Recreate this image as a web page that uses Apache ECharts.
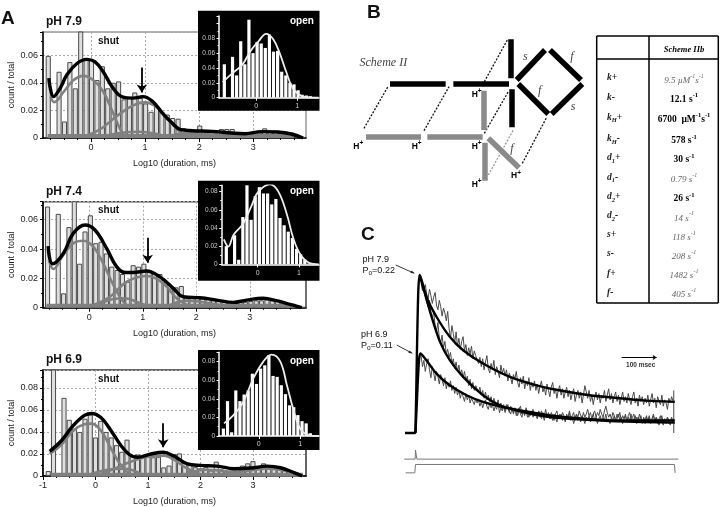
<!DOCTYPE html>
<html><head><meta charset="utf-8"><style>html,body{margin:0;background:#fff}#c{width:720px;height:507px}</style>
<script src="https://cdn.jsdelivr.net/npm/echarts@6/dist/echarts.min.js"></script></head><body><div id="c"></div>
<script>
// ---- Panel A: shut-time histograms (bin counts)
const shutStart79=-0.79, shutStart74=-0.78, shutStart69=-0.9, binWidth=0.1;
const shut79=[.0595,.002,.048,.012,.055,.036,.08,.058,.057,.042,.052,.036,.04,.041,.028,.029,.033,.029,.025,.019,.023,.019,.017,.0145,.014,.0072,.0048,.004,.009,.004,.0045,.0035,.0065,.0065,.0065,.003,.0035,.003,.0035,.004,.007,.005,.005,.004,.0045,.004,.002,.0008];
const shut74=[.069,.002,.064,.0098,.055,.08,.03,.052,.063,.044,.045,.037,.028,.0257,.023,.0177,.029,.028,.03,.0245,.0234,.023,.0177,.013,.0139,.0148,.008,.0075,.007,.007,.006,.005,.005,.004,.004,.0035,.004,.004,.0045,.005,.005,.0055,.005,.005,.004,.003,.002,.001,.0005];
const shut69=[.0045,.1,.001,.071,.051,.043,.04,.052,.056,.035,.05,.04,.035,.028,.022,.033,.0177,.0195,.017,.018,.017,.0175,.0078,.0095,.02,.0205,.0125,.011,.008,.007,.008,.005,.013,.006,.004,.005,.0065,.0095,.0115,.0135,.0075,.0115,.009,.008,.008,.006,.005,.003,.001];
const fit79=[[-.78,.0434],[-.69,.03],[-.57,.036],[-.445,.0458],[-.26,.054],[-.08,.057],[.07,.0554],[.225,.048],[.41,.036],[.59,.0296],[.775,.0289],[.96,.03],[1.14,.0265],[1.32,.018],[1.5,.0108],[1.66,.006],[1.87,.0053],[2.24,.0048],[2.6,.0036],[2.85,.0031],[3.15,.0046],[3.46,.0043],[3.7,.0029],[3.92,0]];
const comp79=[
 [[-.75,.03],[-.68,.026],[-.5,.0337],[-.32,.042],[-.14,.045],[.04,.042],[.225,.0337],[.41,.018],[.56,.0048],[.65,0]],
 [[-.14,.001],[.16,.006],[.47,.0157],[.77,.0234],[1,.0258],[1.2,.0229],[1.38,.0157],[1.63,.0048],[1.81,.0007]],
 [[.16,.0008],[.6,.004],[.9,.0045],[1.2,.003],[1.4,.0008]],
 [[1.4,.0008],[1.75,.0035],[2.24,.0025],[2.6,.0008]]];
const fit74=[[-.77,.042],[-.685,.03],[-.486,.037],[-.3,.0507],[-.08,.0564],[.106,.053],[.324,.0405],[.51,.028],[.667,.024],[.82,.024],[1.07,.025],[1.32,.021],[1.57,.0132],[1.757,.0075],[2.07,.0068],[2.38,.0052],[2.69,.0036],[2.94,.0052],[3.25,.0064],[3.5,.0048],[3.75,.0023],[3.97,0]];
const comp74=[
 [[-.754,.0325],[-.67,.0264],[-.486,.036],[-.3,.0439],[-.11,.0457],[.075,.0416],[.26,.0302],[.45,.0155],[.635,.0041],[.76,.0002]],
 [[.075,.0018],[.386,.0075],[.7,.0177],[1.07,.0216],[1.38,.0166],[1.63,.0064],[1.88,.0011]],
 [[.137,.001],[.45,.0059],[.667,.0064],[.95,.003],[1.13,.0007]],
 [[1.45,.0007],[1.82,.0048],[2.19,.0034],[2.57,.001]]];
const fit69=[[-.873,.0224],[-.65,.032],[-.43,.0454],[-.21,.055],[-.07,.0567],[.108,.0528],[.3,.0409],[.487,.0275],[.646,.0194],[.8,.017],[1.057,.02],[1.29,.0215],[1.5,.0179],[1.753,.011],[2,.0096],[2.32,.009],[2.64,.0066],[2.96,.0072],[3.27,.009],[3.525,.0075],[3.78,.003],[3.94,0]];
const comp69=[
 [[-.873,.02],[-.65,.0284],[-.43,.0409],[-.21,.0469],[-.08,.0475],[.108,.0409],[.3,.0245],[.487,.0096],[.646,.002],[.74,0]],
 [[.108,.002],[.36,.0066],[.646,.0125],[.994,.0176],[1.31,.0185],[1.5,.0146],[1.75,.0066],[2,.0015]],
 [[-.08,.002],[.23,.0057],[.55,.0066],[.87,.002]],
 [[1.75,.003],[2.13,.0057],[2.64,.0036],[3.27,.0066],[3.65,.0045],[3.94,.0006]]];
const floor79=[[-.8,.0014],[3.75,.0014]], floor74=[[-.8,.0014],[3.85,.0014]], floor69=[[-.85,.0012],[3.95,.0012]];
const arrow79=[.94,.051,.033], arrow74=[1.09,.0477,.0307], arrow69=[1.29,.0478,.026];
// ---- Panel A: open-time insets
const openStart79=-.78, openStart74=-.76, openStart69=-.855;
const open79=[.045,0,.055,.03,.076,.045,.105,.06,.075,.073,.067,.085,.062,.063,.035,.03,.02,.018,.01,.004,.003,.002,.001];
const open74=[.02,0,.032,.005,.052,.09,.049,.075,.085,.078,.078,.066,.072,.051,.043,.036,.029,.017,.011,.005,.001,.001];
const open69=[.008,.0375,.004,.049,.0375,.0446,.049,.067,.056,.0725,.076,.087,.0646,.0636,.0546,.045,.033,.031,.0225,.016,.0136,.003,.001];
const openFit79=[[-.82,.021],[-.58,.033],[-.34,.0445],[-.14,.063],[.055,.076],[.24,.086],[.41,.079],[.57,.06],[.73,.035],[.89,.0127],[1.09,.0027],[1.29,.0005],[1.52,0]];
const openFit74=[[-.82,.0275],[-.71,.0195],[-.59,.032],[-.35,.045],[-.145,.065],[.016,.08],[.3,.088],[.5,.08],[.7,.056],[.86,.029],[1.03,.011],[1.23,.002],[1.48,0]];
const openFit69=[[-.84,.0136],[-.61,.0225],[-.37,.037],[-.13,.062],[.11,.08],[.31,.0875],[.52,.08],[.68,.0546],[.84,.028],[1,.008],[1.2,.001],[1.45,0]];
const xTicksShut=[0,1,2,3], xTicksShut69=[-1,0,1,2,3], xTicksOpen=[0,1];
const xMinor=[-.75,-.5,-.25,0,.25,.5,.75,1,1.25,1.5,1.75,2,2.25,2.5,2.75,3,3.25,3.5,3.75];
// ---- Panel C: traces (time in ms, relative amplitude)
const traceStart=16, traceStep=4;
const traceHigh=[.96,.93,.90,.94,.88,.85,.91,.87,.82,.86,.89,.81,.78,.84,.80,.74,.79,.76,.71,.77,
.66,.60,.68,.63,.57,.64,.55,.60,.53,.58,.61,.52,.56,.49,.54,.50,.55,.47,.52,.49,
.50,.44,.48,.42,.47,.40,.45,.49,.41,.38,.44,.40,.46,.37,.42,.39,.35,.43,.38,.41,
.36,.40,.33,.38,.35,.31,.37,.34,.39,.32,.29,.35,.31,.36,.28,.33,.30,.35,.27,.32,
.29,.33,.27,.31,.25,.30,.33,.26,.29,.24,.31,.27,.23,.29,.32,.25,.28,.22,.27,.30,
.24,.28,.22,.26,.29,.23,.27,.21,.25,.28,.20,.24,.27,.22,.26,.19,.24,.30,.26,.22,
.27,.20,.24,.18,.23,.26,.21,.25,.19,.24,.22,.27,.20,.24,.28,.21,.25,.19,.23,.26,
.20,.24,.18,.22,.26,.20,.23,.19,.25,.21,.18,.23,.26,.19,.22,.17,.24,.20,.23,.18,
.22,.19,.24,.17,.21,.25,.19,.22,.16,.23,.20,.18,.24,.17,.21,.19,.15,.22,.19,.23,.20];
const traceMid=[.95,.90,.93,.86,.83,.80,.84,.75,.72,.77,.68,.64,.70,.60,.57,.62,.54,.58,.50,.53,
.48,.51,.44,.47,.41,.45,.39,.43,.37,.40,.35,.39,.33,.36,.30,.34,.28,.32,.27,.30,
.31,.26,.29,.24,.27,.22,.26,.21,.24,.20,.23,.18,.22,.19,.17,.21,.16,.19,.15,.18,
.14,.18,.16,.13,.17,.15,.12,.16,.14,.11,.15,.17,.12,.14,.11,.16,.13,.10,.14,.12,
.15,.11,.13,.10,.14,.12,.09,.13,.11,.15,.10,.12,.09,.13,.11,.08,.12,.14,.10,.12,
.09,.13,.11,.08,.12,.10,.14,.09,.11,.13,.08,.12,.10,.14,.11,.09,.13,.10,.12,.15,
.11,.13,.09,.12,.14,.10,.13,.11,.15,.12,.10,.14,.17,.13,.10,.12,.09,.13,.11,.08,
.12,.10,.13,.08,.11,.09,.12,.07,.11,.13,.08,.10,.12,.07,.10,.08,.12,.09,.06,.10,
.08,.11,.07,.10,.06,.09,.11,.07,.10,.08,.05,.09,.11,.07,.09,.06,.10,.08,.05,.09,.07];
const traceLow=[.49,.42,.46,.39,.44,.47,.40,.35,.42,.38,.33,.39,.36,.31,.37,.34,.30,.35,.28,.32,
.29,.33,.27,.30,.25,.29,.24,.27,.22,.26,.23,.20,.25,.21,.24,.19,.22,.20,.18,.22,
.19,.21,.17,.20,.16,.19,.21,.17,.15,.19,.16,.18,.14,.17,.15,.19,.13,.16,.14,.17,
.13,.16,.18,.14,.12,.16,.13,.15,.11,.14,.16,.12,.10,.14,.12,.15,.10,.13,.11,.14,
.10,.13,.11,.09,.13,.10,.14,.11,.08,.12,.10,.13,.09,.11,.08,.12,.10,.07,.11,.09,
.12,.08,.10,.07,.11,.09,.13,.08,.10,.06,.09,.12,.08,.10,.07,.11,.09,.06,.10,.08,
.11,.07,.09,.12,.08,.10,.06,.09,.11,.07,.10,.08,.12,.07,.09,.06,.10,.08,.11,.07,
.09,.12,.08,.10,.06,.09,.11,.07,.10,.08,.12,.07,.09,.11,.06,.10,.08,.11,.07,.09,
.06,.10,.08,.11,.07,.09,.12,.07,.10,.06,.09,.11,.08,.05,.09,.07,.10,.06,.08,.10,.07];
const fitHigh=[[-30,0],[-2,0],[0,.02],[4,.5],[8,.9],[12,1],[31,.863],[60,.736],[98,.609],[136,.524],[193,.44],[270,.355],[346,.302],[422,.266],[498,.239],[575,.222],[651,.207],[741,.197]];
const fitMid=[[12,1],[27,.884],[46,.736],[70,.577],[98,.461],[136,.355],[193,.239],[241,.175],[308,.133],[384,.101],[479,.085],[575,.074],[741,.066]];
const fitLow=[[0,0],[6,.3],[10,.46],[14,.503],[31,.461],[60,.376],[98,.302],[146,.239],[193,.197],[241,.169],[308,.14],[384,.112],[479,.091],[575,.08],[741,.08]];
const endSpike=[[738,.27],[738,0]];
const stimPulse=[[-32,-.165],[-1,-.165],[0,-.108],[3,-.108],[4,-.165],[751,-.165]];
const stimStep=[[-28,-.252],[-2,-.252],[0,-.199],[740,-.199],[742,-.252]];
const scaleBar=[589,689,.478];
// ---- Panel B: scheme segments, in scheme units
const schemeBlack=[[120,251,287,251],[310,251,477,251],[483,118,483,235],[485,268,485,382],[500,240,585,150],[600,150,693,240],[505,252,595,342],[605,342,697,252]];
const schemeGray=[[48,409,213,409],[232,411,398,411],[401,272,401,390],[403,428,403,542],[415,415,507,503]];
const schemeDots=[[42,385,115,258],[222,392,297,260],[403,245,472,120],[403,400,475,275],[517,490,590,352]];
const schemeDotsGray=[[415,525,490,390]];
// ---- Table
const rowLabels=['{i|k}{i|+}','{i|k}{i|-}','{i|k}{sub|H}{i|+}','{i|k}{sub|H}{i|-}','{i|d}{sub|1}{i|+}','{i|d}{sub|1}{i|-}','{i|d}{sub|2}{i|+}','{i|d}{sub|2}{i|-}','{i|s+}','{i|s-}','{i|f+}','{i|f-}'];
const rowValues=['{g|9.5 µM}{gs|-1}{g|s}{gs|-1}','{b|12.1 s}{bs|-1}','{b|6700  µM}{bs|-1}{b|s}{bs|-1}','{b|578 s}{bs|-1}','{b|30 s}{bs|-1}','{g|0.79 s}{gs|-1}','{b|26 s}{bs|-1}','{g|14 s}{gs|-1}','{g|118 s}{gs|-1}','{g|208 s}{gs|-1}','{g|1482 s}{gs|-1}','{g|405 s}{gs|-1}'];

const SANS='"Liberation Sans",Arial,sans-serif', SERIF='"Liberation Serif","Times New Roman",serif';
const grid=[],xAxis=[],yAxis=[],series=[],graphic=[];
const pts=(start,vals)=>vals.map((v,i)=>[start+binWidth*i,v]);
const segs=a=>a.map(s=>({coords:[[s[0],s[1]],[s[2],s[3]]]}));
function text(x,y,t,o){graphic.push({type:'text',x,y,z:30,silent:true,style:Object.assign({text:t,fontFamily:SANS,fill:'#111',align:'left',verticalAlign:'middle'},o||{})});}

function shutPanel(g,p){
  const gi=grid.length;
  grid.push({left:43,top:g.top,width:263,height:g.bottom-g.top,show:true,borderColor:p.border,borderWidth:1.5,backgroundColor:'transparent'});
  const xi=xAxis.length, yi=yAxis.length;
  xAxis.push({type:'value',gridIndex:gi,min:g.xmin,max:g.xmax,position:'bottom',
    axisLine:{show:true,onZero:false,lineStyle:{color:'#000',width:1.5}},
    axisTick:{show:true,length:4,customValues:p.ticks,lineStyle:{color:'#000'}},
    axisLabel:{customValues:p.ticks,margin:5,fontSize:9,color:'#222',fontFamily:SANS,formatter:v=>String(v)},
    splitLine:{show:true,lineStyle:{color:'#aaa',type:[2,2],width:1}},
    name:'Log10 (duration, ms)',nameLocation:'middle',nameGap:21,nameTextStyle:{fontSize:9,color:'#222',fontFamily:SANS}});
  xAxis.push({type:'value',gridIndex:gi,min:g.xmin,max:g.xmax,position:'bottom',axisLine:{show:false},
    axisTick:{show:true,length:2,customValues:xMinor,lineStyle:{color:'#000'}},axisLabel:{show:false},splitLine:{show:false}});
  yAxis.push({type:'value',gridIndex:gi,min:0,max:g.ymax,interval:.02,
    axisLine:{show:true,onZero:false,lineStyle:{color:'#000',width:1.5}},
    axisTick:{show:true,length:3,lineStyle:{color:'#000'}},
    minorTick:{show:true,splitNumber:2,length:2,lineStyle:{color:'#000'}},
    axisLabel:{margin:5,fontSize:9,color:'#222',fontFamily:SANS,showMaxLabel:false,formatter:v=>v===0?'0':v.toFixed(2)},
    splitLine:{show:true,lineStyle:{color:'#aaa',type:[2,2],width:1}},
    name:'count / total',nameLocation:'middle',nameGap:27,nameRotate:90,nameTextStyle:{fontSize:9,color:'#222',fontFamily:SANS}});
  const ax={xAxisIndex:xi,yAxisIndex:yi};
  series.push(Object.assign({type:'bar',data:pts(p.start,p.bars),barWidth:5.1,z:2,silent:true,
    itemStyle:{color:'#dedede',borderColor:'#4a4a4a',borderWidth:1}},ax));
  series.push(Object.assign({type:'line',data:p.floor,showSymbol:false,silent:true,z:3,lineStyle:{color:'#808080',width:4}},ax));
  p.comps.forEach(c=>series.push(Object.assign({type:'line',data:c,smooth:.4,showSymbol:false,silent:true,z:3,lineStyle:{color:'#808080',width:2.6}},ax)));
  series.push(Object.assign({type:'line',data:p.fit,smooth:.4,showSymbol:false,silent:true,z:4,lineStyle:{color:'#000',width:3.4}},ax));
  series.push(Object.assign({type:'lines',coordinateSystem:'cartesian2d',z:5,silent:true,symbol:['none','arrow'],symbolSize:8,
    lineStyle:{color:'#000',width:1.8,opacity:1},data:[{coords:[[p.arrow[0],p.arrow[1]],[p.arrow[0],p.arrow[2]]]}]},ax));
  text(46,g.top-10,p.title,{fontSize:12,fontWeight:'bold'});
  text(98,g.top+9,'shut',{fontSize:10,fontWeight:'bold'});
}
function openPanel(r,p){
  graphic.push({type:'rect',z:10,silent:true,shape:{x:198,y:r.y,width:121.5,height:100},style:{fill:'#000'}});
  const gi=grid.length;
  grid.push({left:r.left,top:r.top,width:319-r.left,height:r.bottom-r.top});
  const xi=xAxis.length, yi=yAxis.length;
  xAxis.push({type:'value',gridIndex:gi,min:r.xmin,max:r.xmax,z:11,
    axisLine:{show:true,onZero:false,lineStyle:{color:'#fff',width:1.5}},
    axisTick:{show:true,length:3,customValues:xTicksOpen,lineStyle:{color:'#fff'}},
    axisLabel:{customValues:xTicksOpen,margin:5,fontSize:7,color:'#ccc',fontFamily:SANS,formatter:v=>String(v)},splitLine:{show:false}});
  yAxis.push({type:'value',gridIndex:gi,min:0,max:r.ymax,interval:.02,z:11,
    axisLine:{show:true,onZero:false,lineStyle:{color:'#fff',width:1.5}},
    axisTick:{show:true,length:2.5,lineStyle:{color:'#fff'}},minorTick:{show:true,splitNumber:2,length:1.5,lineStyle:{color:'#fff'}},
    axisLabel:{margin:4,fontSize:6.5,color:'#ccc',fontFamily:SANS,showMaxLabel:false,formatter:v=>v===0?'0':(v>.085?'':v.toFixed(2))},splitLine:{show:false}});
  const ax={xAxisIndex:xi,yAxisIndex:yi};
  series.push(Object.assign({type:'bar',data:pts(p.start,p.bars),barWidth:3.2,z:12,silent:true,itemStyle:{color:'#fff'}},ax));
  series.push(Object.assign({type:'line',data:p.fit,smooth:.4,showSymbol:false,silent:true,z:13,lineStyle:{color:'#eee',width:1.8}},ax));
  text(290,r.y+11,'open',{fontSize:10,fontWeight:'bold',fill:'#fff'});
}
shutPanel({top:32,bottom:138,xmin:-.887,xmax:3.974,ymax:.0768},{start:shutStart79,bars:shut79,fit:fit79,comps:comp79,floor:floor79,arrow:arrow79,ticks:xTicksShut,title:'pH 7.9',border:'#999'});
shutPanel({top:201.7,bottom:307.7,xmin:-.865,xmax:4.05,ymax:.0723},{start:shutStart74,bars:shut74,fit:fit74,comps:comp74,floor:floor74,arrow:arrow74,ticks:xTicksShut,title:'pH 7.4',border:'#444'});
shutPanel({top:370,bottom:477.3,xmin:-1,xmax:4.01,ymax:.0962},{start:shutStart69,bars:shut69,fit:fit69,comps:comp69,floor:floor69,arrow:arrow69,ticks:xTicksShut69,title:'pH 6.9',border:'#333'});
openPanel({y:10.7,left:219,top:16,bottom:97.7,xmin:-.91,xmax:1.53,ymax:.11},{start:openStart79,bars:open79,fit:openFit79});
openPanel({y:180.7,left:221.7,top:185.3,bottom:264.3,xmin:-.872,xmax:1.484,ymax:.087},{start:openStart74,bars:open74,fit:openFit74});
openPanel({y:350,left:219,top:352.3,bottom:436,xmin:-.961,xmax:1.455,ymax:.09},{start:openStart69,bars:open69,fit:openFit69});

// Scheme grid
(function(){
  const gi=grid.length; grid.push({left:350,top:0,width:240,height:200});
  const xi=xAxis.length, yi=yAxis.length;
  xAxis.push({type:'value',gridIndex:gi,min:0,max:720,show:false});
  yAxis.push({type:'value',gridIndex:gi,min:0,max:600,inverse:true,show:false});
  const ax={xAxisIndex:xi,yAxisIndex:yi,type:'lines',coordinateSystem:'cartesian2d',silent:true,z:5};
  series.push(Object.assign({},ax,{data:segs(schemeDots),lineStyle:{color:'#111',width:1.3,type:[2,1.5],opacity:1}}));
  series.push(Object.assign({},ax,{data:segs(schemeDotsGray),lineStyle:{color:'#999',width:1.3,type:[2,1.5],opacity:1}}));
  series.push(Object.assign({},ax,{data:segs(schemeBlack),lineStyle:{color:'#000',width:5.5,opacity:1}}));
  series.push(Object.assign({},ax,{data:segs(schemeGray),lineStyle:{color:'#8a8a8a',width:5.5,opacity:1}}));
})();
// Trace grid
(function(){
  const gi=grid.length; grid.push({left:404.3,top:270.3,width:274,height:205.4});
  const xi=xAxis.length, yi=yAxis.length;
  xAxis.push({type:'value',gridIndex:gi,min:-32,max:751,show:false});
  yAxis.push({type:'value',gridIndex:gi,min:-.27,max:1.03,show:false});
  const ax={xAxisIndex:xi,yAxisIndex:yi,type:'line',showSymbol:false,silent:true,z:3};
  const tr=v=>v.map((y,i)=>[traceStart+traceStep*i,y]);
  [traceHigh,traceMid,traceLow].forEach(t=>series.push(Object.assign({},ax,{data:tr(t),lineStyle:{color:'#4a4a4a',width:1}})));
  [fitHigh,fitMid,fitLow].forEach(t=>series.push(Object.assign({},ax,{data:t,smooth:.25,z:4,lineStyle:{color:'#000',width:2.4}})));
  series.push(Object.assign({},ax,{data:endSpike,lineStyle:{color:'#444',width:1}}));
  series.push(Object.assign({},ax,{data:stimPulse,lineStyle:{color:'#777',width:1}}));
  series.push(Object.assign({},ax,{data:stimStep,lineStyle:{color:'#777',width:1}}));
  series.push({type:'lines',coordinateSystem:'cartesian2d',xAxisIndex:xi,yAxisIndex:yi,silent:true,z:4,symbol:['none','arrow'],symbolSize:4,
    lineStyle:{color:'#000',width:1,opacity:1},data:[{coords:[[scaleBar[0],scaleBar[2]],[scaleBar[1],scaleBar[2]]]}]});
})();

// Panel letters and scheme text
text(1,19,'A',{fontSize:19,fontWeight:'bold'});
text(367,13,'B',{fontSize:19,fontWeight:'bold'});
text(361,235,'C',{fontSize:19,fontWeight:'bold'});
text(359.5,62.5,'Scheme II',{fontFamily:SERIF,fontStyle:'italic',fontSize:12,fill:'#444'});
[[525,170,'s'],[667,170,'f'],[570,272,'f'],[668,322,'s'],[487,447,'f']].forEach(a=>text(350+a[0]/3-2,a[1]/3,a[2],{fontFamily:SERIF,fontStyle:'italic',fontSize:12,fill:'#444'}));
const hRich={h:{fontSize:8.5,fontWeight:'bold',fontFamily:SANS,fill:'#000',lineHeight:11,verticalAlign:'bottom'},p:{fontSize:6.5,fontWeight:'bold',fontFamily:SANS,fill:'#000',lineHeight:11,verticalAlign:'top'}};
[[10,437],[185,437],[365,280],[365,437],[365,550],[483,525]].forEach(a=>text(350+a[0]/3,a[1]/3,'{h|H}{p|+}',{rich:hRich}));
// Table
const bw=1.5;
[[596.7,36,718.3,36],[596.7,303,718.3,303],[596.7,36,596.7,303],[718.3,36,718.3,303],[649,36,649,303],[596.7,59,718.3,59]].forEach(l=>graphic.push({type:'line',z:20,silent:true,shape:{x1:l[0],y1:l[1],x2:l[2],y2:l[3]},style:{stroke:'#000',lineWidth:bw}}));
text(684,49.5,'Scheme IIb',{fontFamily:SERIF,fontStyle:'italic',fontWeight:'bold',fontSize:8.5,align:'center',fill:'#000'});
const rowY=[79,98.3,118.3,140,159,178.3,197.7,216.7,236,255,274.3,293.3];
const lRich={i:{fontFamily:SERIF,fontStyle:'italic',fontWeight:'bold',fontSize:9.5,fill:'#222',lineHeight:12,verticalAlign:'top'},sub:{fontFamily:SERIF,fontStyle:'italic',fontWeight:'bold',fontSize:6.5,fill:'#222',lineHeight:12,verticalAlign:'bottom'}};
const vRich={g:{fontFamily:SERIF,fontStyle:'italic',fontSize:9,fill:'#666',lineHeight:12,verticalAlign:'bottom'},gs:{fontFamily:SERIF,fontStyle:'italic',fontSize:6,fill:'#666',lineHeight:12,verticalAlign:'top'},
 b:{fontFamily:SERIF,fontWeight:'bold',fontSize:9.5,fill:'#000',lineHeight:12,verticalAlign:'bottom'},bs:{fontFamily:SERIF,fontWeight:'bold',fontSize:6.5,fill:'#000',lineHeight:12,verticalAlign:'top'}};
rowLabels.forEach((t,i)=>{text(607,rowY[i],t,{rich:lRich});text(684,rowY[i],rowValues[i],{rich:vRich,align:'center'});});
// Panel C annotation
const pRich={t:{fontSize:9,fontFamily:SANS,fill:'#111',lineHeight:11,verticalAlign:'top'},s:{fontSize:6.5,fontFamily:SANS,fill:'#111',lineHeight:11,verticalAlign:'bottom'}};
text(362.5,260,'pH 7.9',{fontSize:9});
text(362.5,271.5,'{t|P}{s|o}{t|=0.22}',{rich:pRich});
text(361,335,'pH 6.9',{fontSize:9});
text(361,346.7,'{t|P}{s|o}{t|=0.11}',{rich:pRich});
[[395.7,265,414.3,273.3],[396.7,345,412.3,353.3]].forEach(l=>{
  graphic.push({type:'line',z:20,silent:true,shape:{x1:l[0],y1:l[1],x2:l[2],y2:l[3]},style:{stroke:'#222',lineWidth:.9}});
  graphic.push({type:'polygon',z:20,silent:true,shape:{points:[[l[2],l[3]],[l[2]-4,l[3]-.4],[l[2]-2.6,l[3]-2.8]]},style:{fill:'#222'}});
});
text(640.7,365.7,'100 msec',{fontSize:6.5,align:'center',fontWeight:'bold',fill:'#333'});

const chart=echarts.init(document.getElementById('c'),null,{renderer:'canvas'});
chart.setOption({animation:false,backgroundColor:'#fff',grid,xAxis,yAxis,series,graphic:{elements:graphic}});
</script></body></html>
